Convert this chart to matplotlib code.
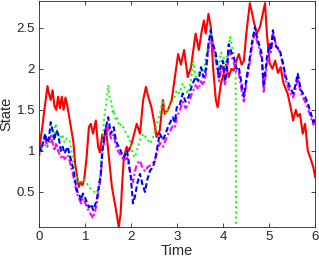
import matplotlib
matplotlib.use("Agg")
from matplotlib import pyplot as plt

plt.rcParams['font.family'] = ['Liberation Sans', 'DejaVu Sans']

# red, solid
red_time = [0, 0.03, 0.07, 0.1, 0.14, 0.18, 0.21, 0.25, 0.29, 0.33,
            0.37, 0.41, 0.45, 0.49, 0.53, 0.57, 0.61, 0.65, 0.7, 0.74,
            0.78, 0.82, 0.86, 0.9, 0.94, 0.98, 1.03, 1.08, 1.12, 1.17,
            1.23, 1.28, 1.32, 1.37, 1.41, 1.45, 1.52, 1.58, 1.66, 1.73,
            1.77, 1.8, 1.84, 1.9, 1.95, 2.01, 2.06, 2.12, 2.19, 2.26,
            2.32, 2.37, 2.44, 2.52, 2.55, 2.62, 2.69, 2.73, 2.8, 2.88,
            2.95, 3.02, 3.08, 3.15, 3.23, 3.3, 3.4, 3.47, 3.53, 3.58,
            3.62, 3.68, 3.73, 3.78, 3.84, 3.88, 3.95, 4.01, 4.06, 4.12,
            4.18, 4.23, 4.29, 4.34, 4.4, 4.45, 4.51, 4.58, 4.62, 4.66,
            4.73, 4.8, 4.88, 4.91, 4.95, 5.01, 5.07, 5.13, 5.19, 5.25,
            5.3, 5.34, 5.4, 5.46, 5.52, 5.58, 5.62, 5.67, 5.73, 5.78,
            5.84, 5.91, 5.96, 6.0]
red_state = [0.95, 1.15, 1.3, 1.45, 1.62, 1.79, 1.7, 1.62, 1.74, 1.55,
             1.5, 1.66, 1.52, 1.66, 1.5, 1.65, 1.55, 1.42, 1.25, 1.12,
             0.85, 0.7, 0.56, 0.62, 0.58, 0.66, 0.92, 1.29, 1.33, 1.21,
             1.37, 1.05, 0.98, 1.2, 1.13, 1.29, 0.89, 0.56, 0.31, 0.07,
             0.24, 0.56, 0.92, 1.05, 1.0, 1.09, 1.2, 1.33, 1.21, 1.62,
             1.78, 1.66, 1.53, 1.29, 1.17, 1.25, 1.62, 1.45, 1.5, 1.62,
             1.9, 2.18, 2.05, 2.23, 1.9, 2.02, 2.43, 2.23, 2.45, 2.59,
             2.43, 2.67, 2.51, 2.02, 1.62, 1.53, 1.82, 1.94, 2.05, 1.9,
             2.0, 1.98, 2.1, 2.18, 2.05, 2.1, 2.47, 2.8, 2.7, 2.59,
             2.43, 2.51, 2.72, 2.8, 2.43, 2.07, 2.0, 2.1, 1.95, 2.02,
             1.85, 1.78, 1.7, 1.55, 1.37, 1.5, 1.42, 1.45, 1.21, 1.33,
             1.0, 0.89, 0.8, 0.68]

# green, dotted (drops to zero at t~4.28)
green_time = [0, 0.05, 0.1, 0.15, 0.2, 0.25, 0.3, 0.36, 0.4, 0.45,
              0.5, 0.55, 0.6, 0.66, 0.7, 0.74, 0.79, 0.84, 0.9, 0.95,
              0.99, 1.04, 1.1, 1.15, 1.2, 1.25, 1.3, 1.34, 1.38, 1.41,
              1.45, 1.5, 1.53, 1.56, 1.6, 1.62, 1.66, 1.69, 1.74, 1.8,
              1.85, 1.9, 1.95, 1.99, 2.04, 2.08, 2.12, 2.19, 2.26, 2.34,
              2.41, 2.47, 2.52, 2.57, 2.62, 2.69, 2.73, 2.77, 2.83, 2.88,
              2.94, 2.99, 3.05, 3.12, 3.18, 3.23, 3.3, 3.35, 3.4, 3.46,
              3.52, 3.57, 3.62, 3.68, 3.73, 3.77, 3.8, 3.85, 3.9, 3.95,
              4.01, 4.04, 4.1, 4.15, 4.2, 4.23, 4.27, 4.28, 6.0]
green_state = [1.05, 1.0, 1.1, 1.05, 1.15, 1.1, 1.2, 1.33, 1.2, 1.15,
               1.2, 1.1, 1.15, 1.13, 1.0, 0.85, 0.72, 0.64, 0.6, 0.66,
               0.64, 0.6, 0.55, 0.52, 0.5, 0.48, 0.58, 0.8, 1.1, 1.41,
               1.55, 1.8, 1.65, 1.62, 1.45, 1.5, 1.38, 1.41, 1.3, 1.33,
               1.25, 1.21, 1.15, 1.09, 0.95, 0.92, 1.0, 1.13, 1.21, 1.15,
               1.09, 1.15, 1.25, 1.35, 1.45, 1.62, 1.5, 1.45, 1.55, 1.58,
               1.65, 1.74, 1.7, 1.82, 1.75, 1.7, 1.85, 2.1, 1.9, 1.95,
               2.02, 1.95, 2.14, 2.3, 2.43, 2.35, 2.27, 2.1, 2.02, 2.2,
               2.14, 2.02, 2.2, 2.39, 2.25, 2.18, 2.02, 0.0, 0.0]

# blue (dashed) and magenta (dash-dot) share the time grid
bm_time = [0, 0.04, 0.08, 0.13, 0.17, 0.21, 0.25, 0.29, 0.33, 0.37,
           0.41, 0.47, 0.51, 0.55, 0.62, 0.66, 0.69, 0.73, 0.77, 0.81,
           0.84, 0.88, 0.91, 0.95, 0.99, 1.03, 1.08, 1.13, 1.17, 1.22,
           1.25, 1.29, 1.34, 1.37, 1.41, 1.45, 1.5, 1.53, 1.56, 1.62,
           1.66, 1.69, 1.73, 1.77, 1.84, 1.91, 1.95, 1.99, 2.04, 2.08,
           2.13, 2.19, 2.24, 2.3, 2.35, 2.41, 2.47, 2.52, 2.57, 2.62,
           2.69, 2.74, 2.8, 2.85, 2.9, 2.95, 2.99, 3.05, 3.12, 3.18,
           3.25, 3.32, 3.4, 3.46, 3.52, 3.57, 3.62, 3.68, 3.73, 3.78,
           3.84, 3.91, 3.95, 3.99, 4.04, 4.08, 4.12, 4.18, 4.23, 4.29,
           4.34, 4.41, 4.45, 4.51, 4.57, 4.62, 4.69, 4.73, 4.78, 4.84,
           4.88, 4.95, 5.01, 5.04, 5.08, 5.15, 5.23, 5.3, 5.36, 5.45,
           5.52, 5.57, 5.62, 5.69, 5.78, 5.84, 5.91, 5.96, 6.0]
blue_state = [1.05, 1.0, 1.1, 1.21, 1.1, 1.15, 1.35, 1.25, 1.13, 1.25,
              1.21, 1.0, 1.05, 0.97, 1.05, 0.95, 0.89, 0.8, 0.68, 0.55,
              0.48, 0.45, 0.4, 0.48, 0.44, 0.38, 0.31, 0.35, 0.28, 0.35,
              0.4, 0.55, 0.72, 1.0, 1.15, 1.29, 1.41, 1.3, 1.21, 1.29,
              1.15, 1.09, 1.05, 1.0, 0.92, 1.0, 0.85, 0.68, 0.36, 0.44,
              0.6, 0.72, 0.6, 0.5, 0.65, 0.76, 0.8, 0.89, 1.05, 1.21,
              1.13, 1.2, 1.29, 1.35, 1.41, 1.35, 1.53, 1.55, 1.7, 1.6,
              1.66, 1.8, 1.9, 1.85, 2.02, 1.9, 1.98, 2.3, 2.47, 2.3,
              2.18, 1.9, 2.05, 2.1, 1.85, 2.0, 2.3, 2.2, 2.14, 2.0,
              2.02, 1.78, 1.66, 1.9, 2.1, 2.3, 2.51, 2.4, 2.3, 2.18,
              1.78, 2.14, 2.3, 2.23, 2.47, 2.27, 2.23, 2.07, 1.9, 1.78,
              1.7, 1.8, 1.94, 1.74, 1.66, 1.58, 1.45, 1.35, 1.41]
magenta_state = [1.0, 1.05, 1.1, 1.15, 1.05, 1.1, 1.2, 1.1, 1.0, 1.1,
                 1.0, 0.92, 0.95, 0.9, 0.95, 0.88, 0.8, 0.72, 0.62, 0.5,
                 0.45, 0.4, 0.36, 0.42, 0.38, 0.32, 0.26, 0.22, 0.18, 0.28,
                 0.35, 0.5, 0.7, 0.95, 1.1, 1.2, 1.3, 1.22, 1.15, 1.2,
                 1.08, 1.02, 0.98, 0.95, 0.88, 0.92, 0.8, 0.7, 0.62, 0.75,
                 0.85, 0.88, 0.8, 0.75, 0.8, 0.82, 0.85, 0.9, 1.0, 1.1,
                 1.05, 1.12, 1.2, 1.25, 1.3, 1.28, 1.42, 1.48, 1.6, 1.52,
                 1.58, 1.7, 1.8, 1.75, 1.85, 1.8, 1.92, 2.25, 2.4, 2.25,
                 2.1, 1.85, 1.98, 2.05, 1.8, 1.95, 2.22, 2.15, 2.08, 1.95,
                 1.95, 1.7, 1.6, 1.85, 2.05, 2.25, 2.45, 2.35, 2.25, 2.1,
                 1.72, 2.05, 2.25, 2.2, 2.42, 2.3, 2.2, 2.05, 1.85, 1.72,
                 1.65, 1.75, 1.88, 1.7, 1.6, 1.52, 1.4, 1.32, 1.35]

x_ticks = [0, 1, 2, 3, 4, 5, 6]
y_ticks = [0.5, 1, 1.5, 2, 2.5]

fig = plt.figure(figsize=(3.19, 2.59), dpi=100)
ax = fig.add_axes([0.123, 0.125, 0.865, 0.871])

ax.plot(red_time, red_state, color=(1, 0, 0), linewidth=1.5, linestyle='-')
ax.plot(green_time, green_state, color=(0, 1, 0), linewidth=1.4, linestyle=':')
ax.plot(bm_time, magenta_state, color=(1, 0, 1), linewidth=1.5,
        dashes=(3.0, 1.2, 1.0, 1.2))
ax.plot(bm_time, blue_state, color=(0, 0, 1), linewidth=1.5, dashes=(2.6, 1.3))

ax.set_xlim(0, 6)
ax.set_ylim(0.077, 2.826)
ax.set_xticks(x_ticks)
ax.set_xticklabels([str(t) for t in x_ticks])
ax.set_yticks(y_ticks)
ax.set_yticklabels(['0.5', '1', '1.5', '2', '2.5'])

ax.tick_params(direction='in', length=3, width=0.6, top=True, right=True,
               labelsize=9.5, colors=(0.15, 0.15, 0.15), pad=3)
for s in ax.spines.values():
    s.set_color((0.15, 0.15, 0.15))
    s.set_linewidth(0.6)

ax.set_xlabel('Time', fontsize=10.5, color=(0.15, 0.15, 0.15), labelpad=1)
ax.set_ylabel('State', fontsize=10.5, color=(0.15, 0.15, 0.15), labelpad=2)

fig.savefig('out.png', dpi=100)
